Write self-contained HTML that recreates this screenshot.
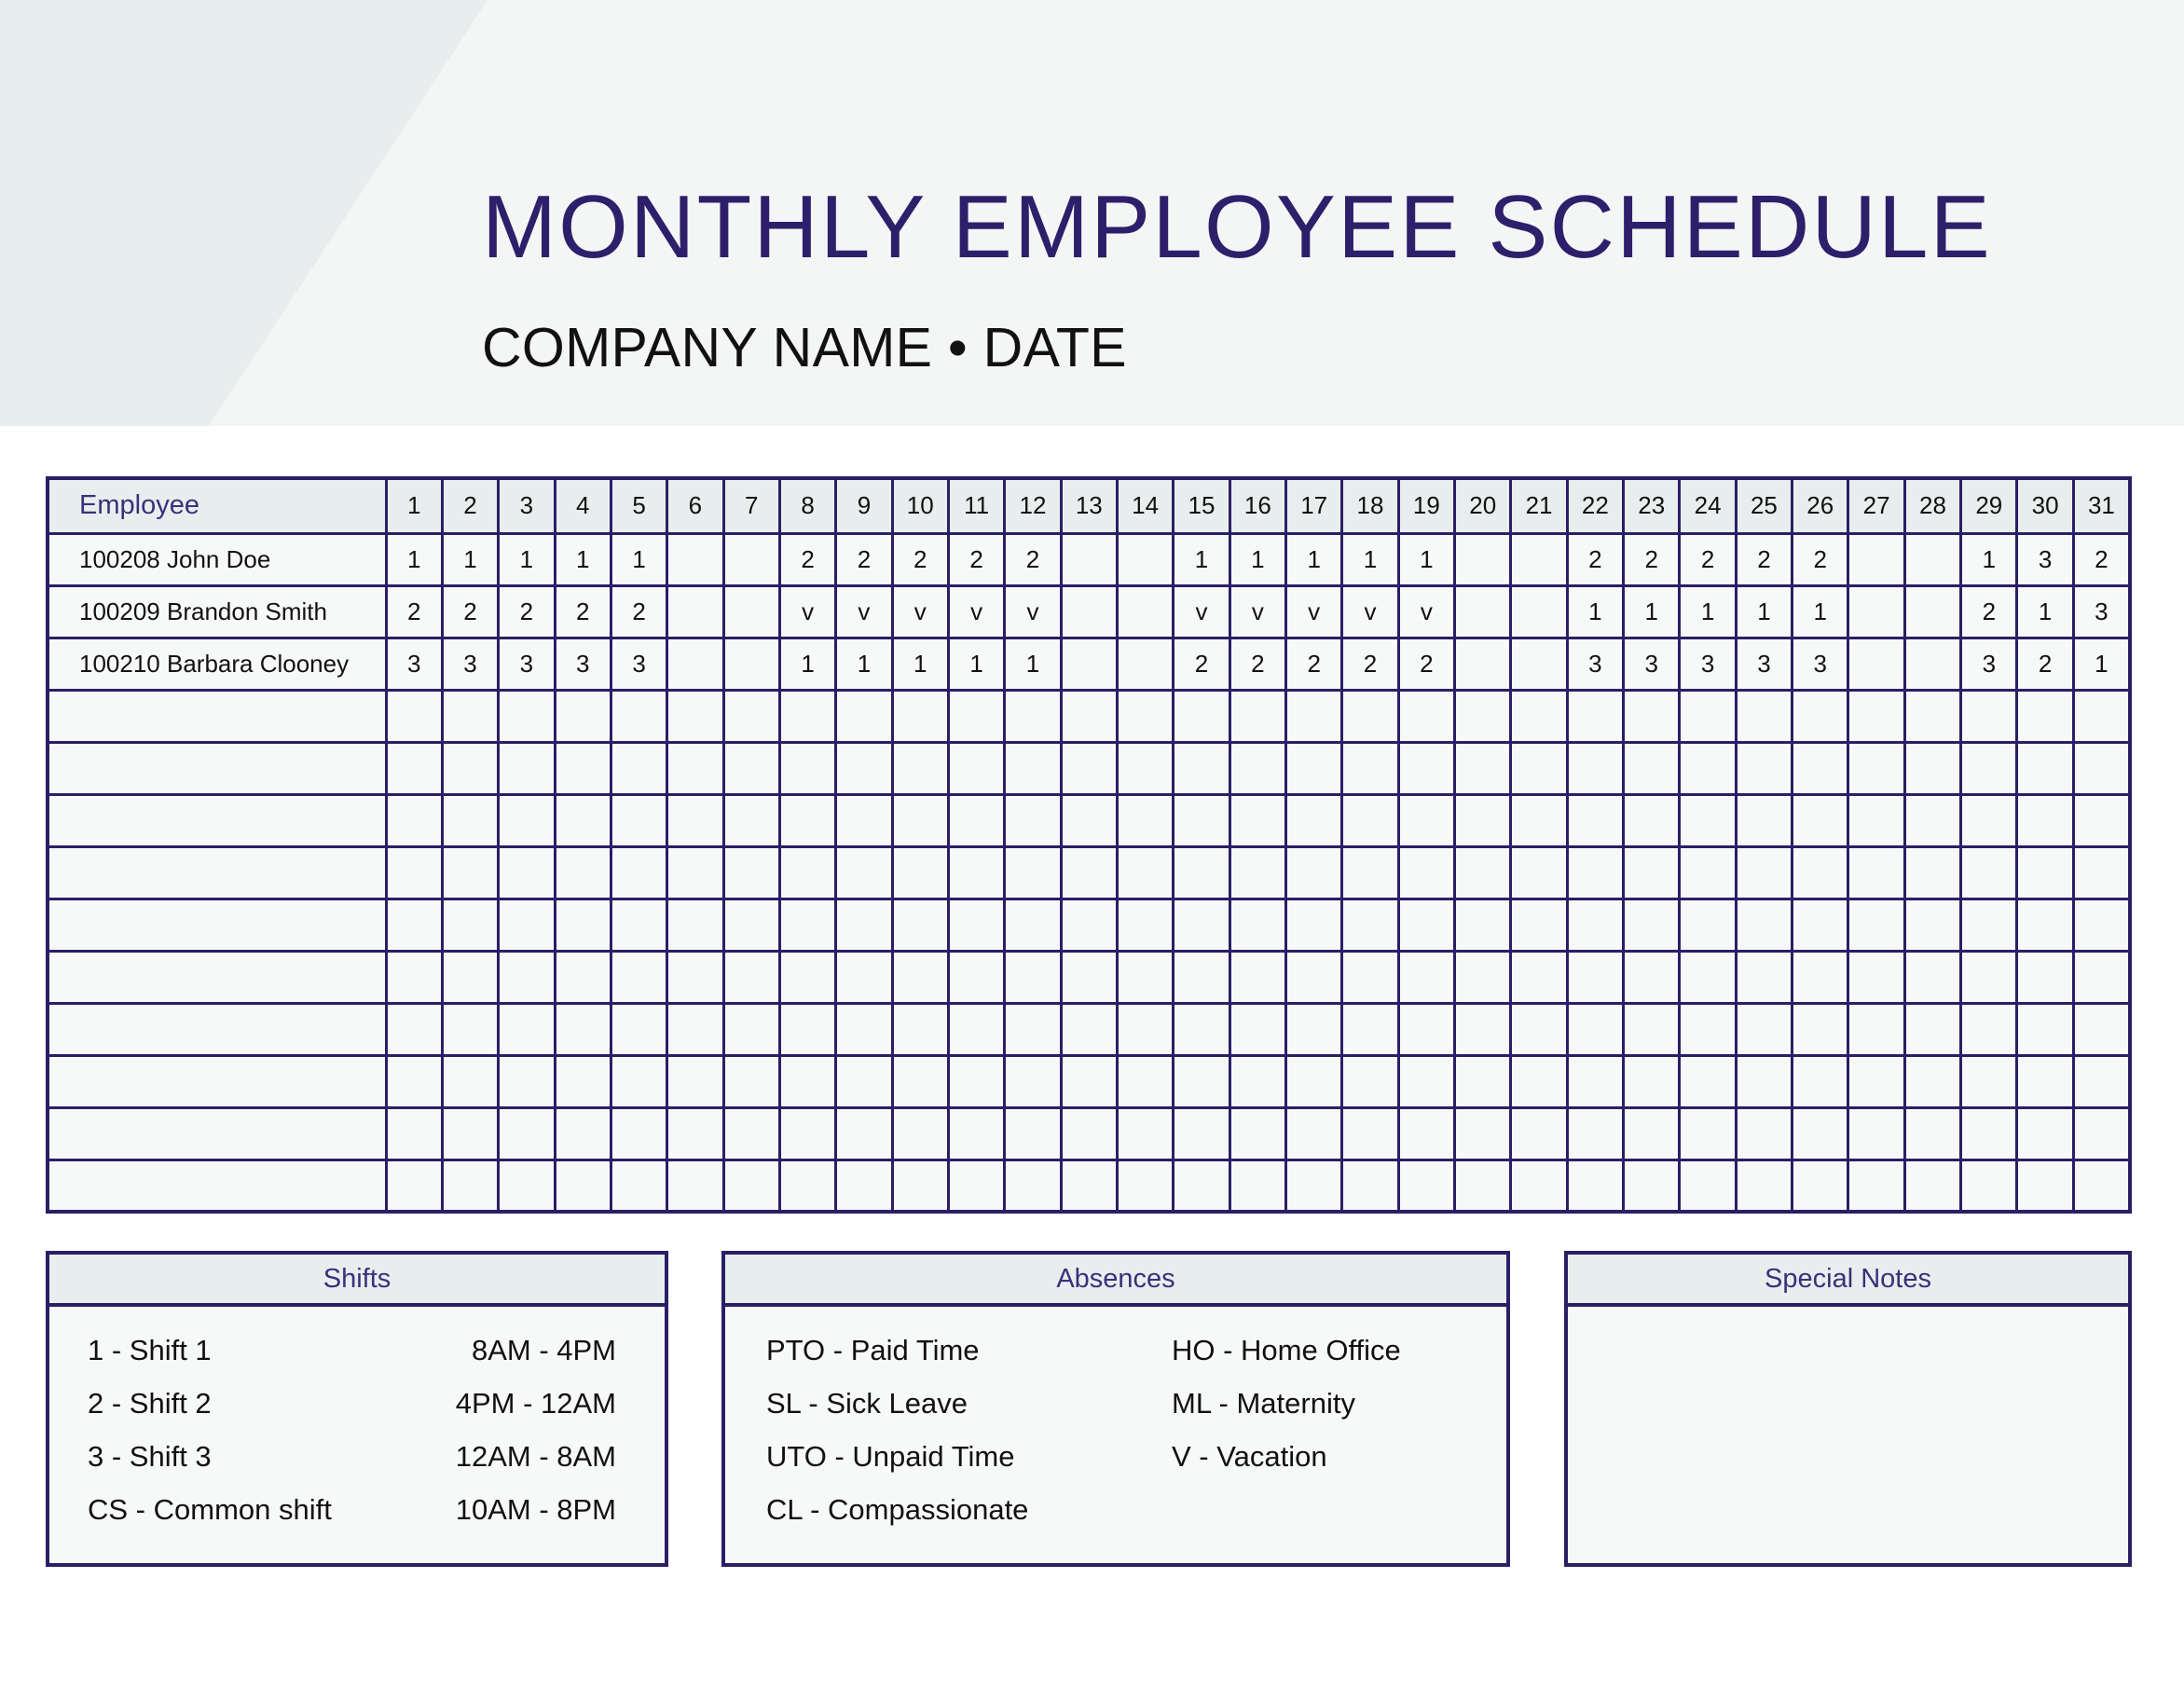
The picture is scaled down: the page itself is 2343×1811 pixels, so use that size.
<!DOCTYPE html>
<html><head><meta charset="utf-8"><style>
*{margin:0;padding:0;box-sizing:border-box}
body{width:2343px;height:1811px;background:#fff;position:relative;overflow:hidden;font-family:"Liberation Sans",sans-serif}
.band{position:absolute;left:0;top:0;width:2343px;height:457px;background:#f4f6f6}
.title{position:absolute;left:517px;top:196px;font-size:96px;color:#2e1f6b;letter-spacing:2.2px;white-space:nowrap;line-height:1}
.sub{position:absolute;left:517px;top:344px;font-size:59px;color:#111;letter-spacing:0.3px;white-space:nowrap;line-height:1}
table{position:absolute;left:49px;top:511px;width:2238px;height:790px;border-collapse:collapse;table-layout:fixed;border:4px solid #2a1f66}
td{border:3px solid #2a1f66;background:#f7f9f9;text-align:center;font-size:26px;color:#111;height:56px}
tr.h td{background:#e8eeee;height:59px}
td.n{text-align:left;padding-left:32px;white-space:nowrap}
tr.h td.n{color:#3b2f7a;font-size:29px}
.box{position:absolute;border:4px solid #2a1f66;background:#f7f9f9}
.box .hd{height:56px;background:#e8eeee;border-bottom:4px solid #2a1f66;text-align:center;font-size:29px;line-height:52px;color:#3b2f7a}
.t{position:absolute;font-size:31px;color:#111;white-space:nowrap;line-height:1}
</style></head><body>
<div class="band"></div>
<svg style="position:absolute;left:0;top:0" width="600" height="457"><polygon points="0,0 523,0 224,457 0,457" fill="#e8eded"/></svg>
<div class="title">MONTHLY EMPLOYEE SCHEDULE</div>
<div class="sub">COMPANY NAME • DATE</div>
<table>
<colgroup><col style="width:363px"><col span="31"></colgroup>
<tr class="h"><td class="n">Employee</td><td>1</td><td>2</td><td>3</td><td>4</td><td>5</td><td>6</td><td>7</td><td>8</td><td>9</td><td>10</td><td>11</td><td>12</td><td>13</td><td>14</td><td>15</td><td>16</td><td>17</td><td>18</td><td>19</td><td>20</td><td>21</td><td>22</td><td>23</td><td>24</td><td>25</td><td>26</td><td>27</td><td>28</td><td>29</td><td>30</td><td>31</td></tr>
<tr><td class="n">100208 John Doe</td><td>1</td><td>1</td><td>1</td><td>1</td><td>1</td><td></td><td></td><td>2</td><td>2</td><td>2</td><td>2</td><td>2</td><td></td><td></td><td>1</td><td>1</td><td>1</td><td>1</td><td>1</td><td></td><td></td><td>2</td><td>2</td><td>2</td><td>2</td><td>2</td><td></td><td></td><td>1</td><td>3</td><td>2</td></tr>
<tr><td class="n">100209 Brandon Smith</td><td>2</td><td>2</td><td>2</td><td>2</td><td>2</td><td></td><td></td><td>v</td><td>v</td><td>v</td><td>v</td><td>v</td><td></td><td></td><td>v</td><td>v</td><td>v</td><td>v</td><td>v</td><td></td><td></td><td>1</td><td>1</td><td>1</td><td>1</td><td>1</td><td></td><td></td><td>2</td><td>1</td><td>3</td></tr>
<tr><td class="n">100210 Barbara Clooney</td><td>3</td><td>3</td><td>3</td><td>3</td><td>3</td><td></td><td></td><td>1</td><td>1</td><td>1</td><td>1</td><td>1</td><td></td><td></td><td>2</td><td>2</td><td>2</td><td>2</td><td>2</td><td></td><td></td><td>3</td><td>3</td><td>3</td><td>3</td><td>3</td><td></td><td></td><td>3</td><td>2</td><td>1</td></tr>
<tr><td></td><td></td><td></td><td></td><td></td><td></td><td></td><td></td><td></td><td></td><td></td><td></td><td></td><td></td><td></td><td></td><td></td><td></td><td></td><td></td><td></td><td></td><td></td><td></td><td></td><td></td><td></td><td></td><td></td><td></td><td></td><td></td></tr>
<tr><td></td><td></td><td></td><td></td><td></td><td></td><td></td><td></td><td></td><td></td><td></td><td></td><td></td><td></td><td></td><td></td><td></td><td></td><td></td><td></td><td></td><td></td><td></td><td></td><td></td><td></td><td></td><td></td><td></td><td></td><td></td><td></td></tr>
<tr><td></td><td></td><td></td><td></td><td></td><td></td><td></td><td></td><td></td><td></td><td></td><td></td><td></td><td></td><td></td><td></td><td></td><td></td><td></td><td></td><td></td><td></td><td></td><td></td><td></td><td></td><td></td><td></td><td></td><td></td><td></td><td></td></tr>
<tr><td></td><td></td><td></td><td></td><td></td><td></td><td></td><td></td><td></td><td></td><td></td><td></td><td></td><td></td><td></td><td></td><td></td><td></td><td></td><td></td><td></td><td></td><td></td><td></td><td></td><td></td><td></td><td></td><td></td><td></td><td></td><td></td></tr>
<tr><td></td><td></td><td></td><td></td><td></td><td></td><td></td><td></td><td></td><td></td><td></td><td></td><td></td><td></td><td></td><td></td><td></td><td></td><td></td><td></td><td></td><td></td><td></td><td></td><td></td><td></td><td></td><td></td><td></td><td></td><td></td><td></td></tr>
<tr><td></td><td></td><td></td><td></td><td></td><td></td><td></td><td></td><td></td><td></td><td></td><td></td><td></td><td></td><td></td><td></td><td></td><td></td><td></td><td></td><td></td><td></td><td></td><td></td><td></td><td></td><td></td><td></td><td></td><td></td><td></td><td></td></tr>
<tr><td></td><td></td><td></td><td></td><td></td><td></td><td></td><td></td><td></td><td></td><td></td><td></td><td></td><td></td><td></td><td></td><td></td><td></td><td></td><td></td><td></td><td></td><td></td><td></td><td></td><td></td><td></td><td></td><td></td><td></td><td></td><td></td></tr>
<tr><td></td><td></td><td></td><td></td><td></td><td></td><td></td><td></td><td></td><td></td><td></td><td></td><td></td><td></td><td></td><td></td><td></td><td></td><td></td><td></td><td></td><td></td><td></td><td></td><td></td><td></td><td></td><td></td><td></td><td></td><td></td><td></td></tr>
<tr><td></td><td></td><td></td><td></td><td></td><td></td><td></td><td></td><td></td><td></td><td></td><td></td><td></td><td></td><td></td><td></td><td></td><td></td><td></td><td></td><td></td><td></td><td></td><td></td><td></td><td></td><td></td><td></td><td></td><td></td><td></td><td></td></tr>
<tr><td></td><td></td><td></td><td></td><td></td><td></td><td></td><td></td><td></td><td></td><td></td><td></td><td></td><td></td><td></td><td></td><td></td><td></td><td></td><td></td><td></td><td></td><td></td><td></td><td></td><td></td><td></td><td></td><td></td><td></td><td></td><td></td></tr>
</table>

<div class="box" style="left:49px;top:1342px;width:668px;height:339px"><div class="hd">Shifts</div></div>
<div class="box" style="left:774px;top:1342px;width:846px;height:339px"><div class="hd">Absences</div></div>
<div class="box" style="left:1678px;top:1342px;width:609px;height:339px"><div class="hd">Special Notes</div></div>

<div class="t" style="left:94px;top:1433px">1 - Shift 1</div>
<div class="t" style="left:94px;top:1490px">2 - Shift 2</div>
<div class="t" style="left:94px;top:1547px">3 - Shift 3</div>
<div class="t" style="left:94px;top:1604px">CS - Common shift</div>
<div class="t" style="right:1682px;top:1433px">8AM - 4PM</div>
<div class="t" style="right:1682px;top:1490px">4PM - 12AM</div>
<div class="t" style="right:1682px;top:1547px">12AM - 8AM</div>
<div class="t" style="right:1682px;top:1604px">10AM - 8PM</div>

<div class="t" style="left:822px;top:1433px">PTO - Paid Time</div>
<div class="t" style="left:822px;top:1490px">SL - Sick Leave</div>
<div class="t" style="left:822px;top:1547px">UTO - Unpaid Time</div>
<div class="t" style="left:822px;top:1604px">CL - Compassionate</div>
<div class="t" style="left:1257px;top:1433px">HO - Home Office</div>
<div class="t" style="left:1257px;top:1490px">ML - Maternity</div>
<div class="t" style="left:1257px;top:1547px">V - Vacation</div>
</body></html>
